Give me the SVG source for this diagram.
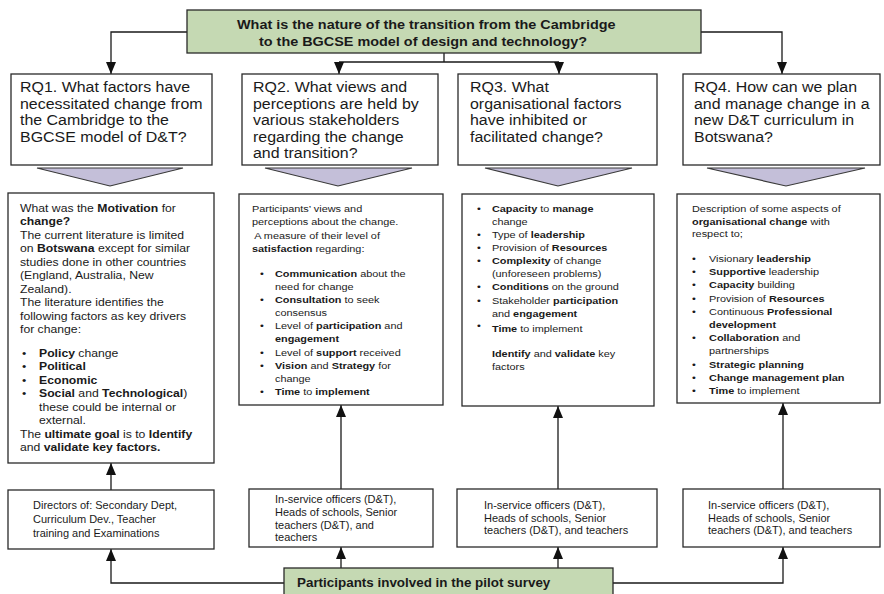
<svg xmlns="http://www.w3.org/2000/svg" width="884" height="594" viewBox="0 0 884 594">
<style>
.box{fill:#ffffff;stroke:#2a2a2a;stroke-width:1.3}
.green{fill:#c5d9b3;stroke:#2a2a2a;stroke-width:1.3}
.tri{fill:#c4bfd9;stroke:#3a3a3a;stroke-width:1.2}
.ln{fill:none;stroke:#1a1a1a;stroke-width:1.3}
text{font-family:"Liberation Sans",Arial,sans-serif;fill:#1a1a1a}
.title{font-size:13.1px;font-weight:bold}
.rq{font-size:14.5px}
.d1{font-size:11.1px}
.d{font-size:9.9px}
.bt{font-size:10px}
.b{font-weight:bold}
</style>
<defs>
<marker id="ah" viewBox="0 0 12 10" refX="12" refY="5" markerWidth="12" markerHeight="10" markerUnits="userSpaceOnUse" orient="auto">
<path d="M0,0 L12,5 L0,10 z" fill="#111"/>
</marker>
</defs>

<g id="connectors">
<path class="ln" d="M187,32 H111 V74" marker-end="url(#ah)"/>
<path class="ln" d="M701,32 H782 V74" marker-end="url(#ah)"/>
<path class="ln" d="M444,53 V62 M339,62 H559"/>
<path class="ln" d="M339,62 V74" marker-end="url(#ah)"/>
<path class="ln" d="M559,62 V74" marker-end="url(#ah)"/>
<path class="ln" d="M111,490 V463" marker-end="url(#ah)"/>
<path class="ln" d="M341,489 V405" marker-end="url(#ah)"/>
<path class="ln" d="M558,489 V406" marker-end="url(#ah)"/>
<path class="ln" d="M783,489 V403" marker-end="url(#ah)"/>
<path class="ln" d="M341,568 V547" marker-end="url(#ah)"/>
<path class="ln" d="M558,568 V547" marker-end="url(#ah)"/>
<path class="ln" d="M284,583 H111 V549" marker-end="url(#ah)"/>
<path class="ln" d="M613,583 H783 V547" marker-end="url(#ah)"/>
</g>

<g id="main-question">
<rect class="green" x="187" y="10" width="514" height="43"/>
<text class="title" transform="translate(237,0) scale(1.1,1)"><tspan x="0" y="29.5">What is the nature of the transition from the Cambridge</tspan><tspan x="20" y="46.5">to the BGCSE model of design and technology?</tspan></text>
</g>

<g id="rq1">
<rect class="box" x="11" y="74" width="201" height="91"/>
<text class="rq" transform="translate(20,0) scale(1.1,1)"><tspan x="0" y="92.5">RQ1. What factors have</tspan><tspan x="0" y="109">necessitated change from</tspan><tspan x="0" y="125.5">the Cambridge to the</tspan><tspan x="0" y="142">BGCSE model of D&amp;T?</tspan></text>
</g>
<g id="rq2">
<rect class="box" x="242" y="74" width="196" height="91"/>
<text class="rq" transform="translate(253,0) scale(1.1,1)"><tspan x="0" y="92.5">RQ2. What views and</tspan><tspan x="0" y="109">perceptions are held by</tspan><tspan x="0" y="125.5">various stakeholders</tspan><tspan x="0" y="142">regarding the change</tspan><tspan x="0" y="158.5">and transition?</tspan></text>
</g>
<g id="rq3">
<rect class="box" x="458" y="74" width="199" height="91"/>
<text class="rq" transform="translate(470,0) scale(1.1,1)"><tspan x="0" y="92.5">RQ3. What</tspan><tspan x="0" y="109">organisational factors</tspan><tspan x="0" y="125.5">have inhibited or</tspan><tspan x="0" y="142">facilitated change?</tspan></text>
</g>
<g id="rq4">
<rect class="box" x="683" y="74" width="197" height="91"/>
<text class="rq" transform="translate(694,0) scale(1.1,1)"><tspan x="0" y="92.5">RQ4. How can we plan</tspan><tspan x="0" y="109">and manage change in a</tspan><tspan x="0" y="125.5">new D&amp;T curriculum in</tspan><tspan x="0" y="142">Botswana?</tspan></text>
</g>

<g id="arrow1"><polygon class="tri" points="37,168 183,168 110,186"/></g>
<g id="arrow2"><polygon class="tri" points="265,168 412,168 338,186"/></g>
<g id="arrow3"><polygon class="tri" points="485,168 632,168 558,186"/></g>
<g id="arrow4"><polygon class="tri" points="707,168 865,168 786,186"/></g>

<g id="detail1">
<rect class="box" x="8" y="193" width="206" height="270"/>
<text class="d1" transform="translate(20,0) scale(1.1,1)">
<tspan x="0" y="212">What was the <tspan class="b">Motivation</tspan> for</tspan>
<tspan x="0" y="225.5" class="b">change?</tspan>
<tspan x="0" y="239">The current literature is limited</tspan>
<tspan x="0" y="252.5">on <tspan class="b">Botswana</tspan> except for similar</tspan>
<tspan x="0" y="266">studies done in other countries</tspan>
<tspan x="0" y="279.5">(England, Australia, New</tspan>
<tspan x="0" y="293">Zealand).</tspan>
<tspan x="0" y="306.5">The literature identifies the</tspan>
<tspan x="0" y="320">following factors as key drivers</tspan>
<tspan x="0" y="333.5">for change:</tspan>
<tspan x="1.8" y="357">•</tspan><tspan x="17.3" y="357"><tspan class="b">Policy</tspan> change</tspan>
<tspan x="1.8" y="370.5">•</tspan><tspan x="17.3" y="370.5" class="b">Political</tspan>
<tspan x="1.8" y="384">•</tspan><tspan x="17.3" y="384" class="b">Economic</tspan>
<tspan x="1.8" y="397.5">•</tspan><tspan x="17.3" y="397.5"><tspan class="b">Social</tspan> and <tspan class="b">Technological</tspan>)</tspan>
<tspan x="17.3" y="411">these could be internal or</tspan>
<tspan x="17.3" y="424.5">external.</tspan>
<tspan x="0" y="438">The <tspan class="b">ultimate goal</tspan> is to <tspan class="b">Identify</tspan></tspan>
<tspan x="0" y="451.5">and <tspan class="b">validate key factors.</tspan></tspan>
</text>
</g>

<g id="detail2">
<rect class="box" x="239" y="194" width="204" height="211"/>
<text class="d" transform="translate(252,0) scale(1.1,1)">
<tspan x="0" y="212">Participants’ views and</tspan>
<tspan x="0" y="225.5">perceptions about the change.</tspan>
<tspan x="2" y="239">A measure of their level of</tspan>
<tspan x="0" y="252"><tspan class="b">satisfaction</tspan> regarding:</tspan>
<tspan x="7.3" y="277">•</tspan><tspan x="20.9" y="277"><tspan class="b">Communication</tspan> about the</tspan>
<tspan x="20.9" y="290.1">need for change</tspan>
<tspan x="7.3" y="303.2">•</tspan><tspan x="20.9" y="303.2"><tspan class="b">Consultation</tspan> to seek</tspan>
<tspan x="20.9" y="316.3">consensus</tspan>
<tspan x="7.3" y="329.4">•</tspan><tspan x="20.9" y="329.4">Level of <tspan class="b">participation</tspan> and</tspan>
<tspan x="20.9" y="342.5" class="b">engagement</tspan>
<tspan x="7.3" y="355.6">•</tspan><tspan x="20.9" y="355.6">Level of <tspan class="b">support</tspan> received</tspan>
<tspan x="7.3" y="368.7">•</tspan><tspan x="20.9" y="368.7"><tspan class="b">Vision</tspan> and <tspan class="b">Strategy</tspan> for</tspan>
<tspan x="20.9" y="381.8">change</tspan>
<tspan x="7.3" y="395">•</tspan><tspan x="20.9" y="395"><tspan class="b">Time</tspan> to <tspan class="b">implement</tspan></tspan>
</text>
</g>

<g id="detail3">
<rect class="box" x="462" y="194" width="192" height="212"/>
<text class="d" transform="translate(477,0) scale(1.1,1)">
<tspan x="0" y="212">•</tspan><tspan x="13.6" y="212"><tspan class="b">Capacity</tspan> to <tspan class="b">manage</tspan></tspan>
<tspan x="13.6" y="225.3">change</tspan>
<tspan x="0" y="238.5">•</tspan><tspan x="13.6" y="238.5">Type of <tspan class="b">leadership</tspan></tspan>
<tspan x="0" y="251.5">•</tspan><tspan x="13.6" y="251.5">Provision of <tspan class="b">Resources</tspan></tspan>
<tspan x="0" y="264.5">•</tspan><tspan x="13.6" y="264.5"><tspan class="b">Complexity</tspan> of change</tspan>
<tspan x="13.6" y="277.5">(unforeseen problems)</tspan>
<tspan x="0" y="290.5">•</tspan><tspan x="13.6" y="290.5"><tspan class="b">Conditions</tspan> on the ground</tspan>
<tspan x="0" y="304">•</tspan><tspan x="13.6" y="304">Stakeholder <tspan class="b">participation</tspan></tspan>
<tspan x="13.6" y="317">and <tspan class="b">engagement</tspan></tspan>
<tspan x="0" y="329">•</tspan><tspan x="13.6" y="332"><tspan class="b">Time</tspan> to implement</tspan>
<tspan x="13.6" y="357"><tspan class="b">Identify</tspan> and <tspan class="b">validate</tspan> key</tspan>
<tspan x="13.6" y="370">factors</tspan>
</text>
</g>

<g id="detail4">
<rect class="box" x="677" y="194" width="203" height="209"/>
<text class="d" transform="translate(692,0) scale(1.1,1)">
<tspan x="0" y="212">Description of some aspects of</tspan>
<tspan x="0" y="224.8"><tspan class="b">organisational change</tspan> with</tspan>
<tspan x="0" y="237.5">respect to;</tspan>
<tspan x="0" y="262">•</tspan><tspan x="15.5" y="262">Visionary <tspan class="b">leadership</tspan></tspan>
<tspan x="0" y="275.2">•</tspan><tspan x="15.5" y="275.2"><tspan class="b">Supportive</tspan> leadership</tspan>
<tspan x="0" y="288.4">•</tspan><tspan x="15.5" y="288.4"><tspan class="b">Capacity</tspan> building</tspan>
<tspan x="0" y="301.6">•</tspan><tspan x="15.5" y="301.6">Provision of <tspan class="b">Resources</tspan></tspan>
<tspan x="0" y="314.8">•</tspan><tspan x="15.5" y="314.8">Continuous <tspan class="b">Professional</tspan></tspan>
<tspan x="15.5" y="328" class="b">development</tspan>
<tspan x="0" y="341.2">•</tspan><tspan x="15.5" y="341.2"><tspan class="b">Collaboration</tspan> and</tspan>
<tspan x="15.5" y="354.4">partnerships</tspan>
<tspan x="0" y="367.6">•</tspan><tspan x="15.5" y="367.6" class="b">Strategic planning</tspan>
<tspan x="0" y="380.8">•</tspan><tspan x="15.5" y="380.8" class="b">Change management plan</tspan>
<tspan x="0" y="394">•</tspan><tspan x="15.5" y="394"><tspan class="b">Time</tspan> to implement</tspan>
</text>
</g>

<g id="participants1">
<rect class="box" x="8" y="490" width="206" height="59"/>
<text class="bt" transform="translate(33,0) scale(1.1,1)"><tspan x="0" y="509">Directors of: Secondary Dept,</tspan><tspan x="0" y="523">Curriculum Dev., Teacher</tspan><tspan x="0" y="537">training and Examinations</tspan></text>
</g>
<g id="participants2">
<rect class="box" x="249" y="489" width="184" height="58"/>
<text class="bt" transform="translate(275,0) scale(1.1,1)"><tspan x="0" y="503.5">In-service officers (D&amp;T),</tspan><tspan x="0" y="516.5">Heads of schools, Senior</tspan><tspan x="0" y="529">teachers (D&amp;T), and</tspan><tspan x="0" y="541.5">teachers</tspan></text>
</g>
<g id="participants3">
<rect class="box" x="457" y="489" width="200" height="58"/>
<text class="bt" transform="translate(484,0) scale(1.1,1)"><tspan x="0" y="509.5">In-service officers (D&amp;T),</tspan><tspan x="0" y="522">Heads of schools, Senior</tspan><tspan x="0" y="534.5">teachers (D&amp;T), and teachers</tspan></text>
</g>
<g id="participants4">
<rect class="box" x="683" y="489" width="197" height="58"/>
<text class="bt" transform="translate(708,0) scale(1.1,1)"><tspan x="0" y="509.5">In-service officers (D&amp;T),</tspan><tspan x="0" y="522">Heads of schools, Senior</tspan><tspan x="0" y="534.5">teachers (D&amp;T), and teachers</tspan></text>
</g>

<g id="pilot-survey">
<rect class="green" x="284" y="568" width="329" height="30"/>
<text class="b" style="font-size:12.2px" transform="translate(297,0) scale(1.1,1)"><tspan x="0" y="587">Participants involved in the pilot survey</tspan></text>
</g>
</svg>
